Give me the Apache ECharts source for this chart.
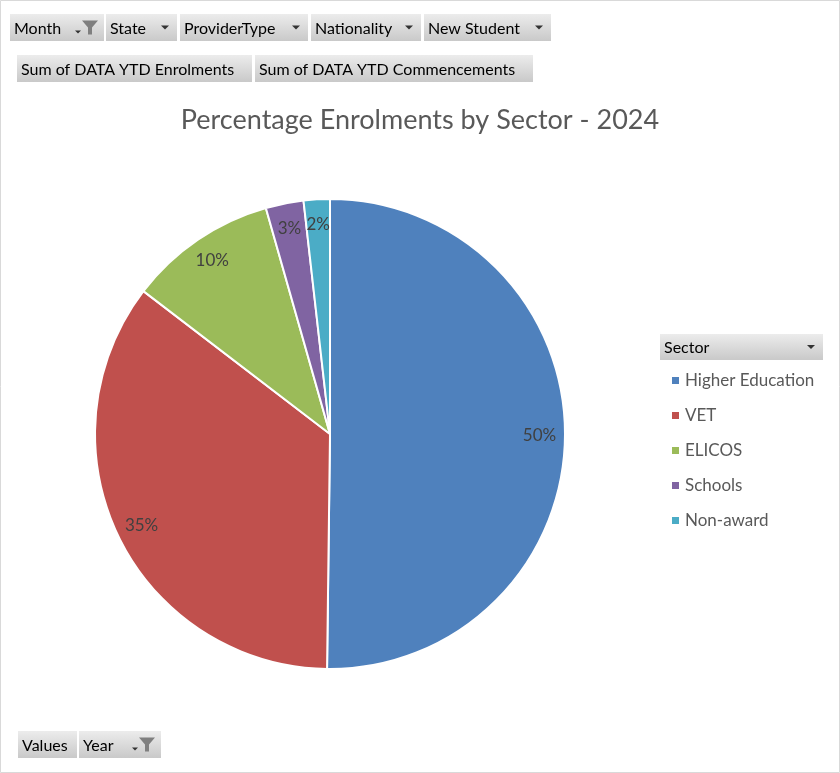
<!DOCTYPE html>
<html>
<head>
<meta charset="utf-8">
<title>Percentage Enrolments by Sector - 2024</title>
<script src="https://cdn.jsdelivr.net/npm/echarts@6/dist/echarts.min.js"></script>
<style>
    html, body { margin: 0; padding: 0; background: #fff; }
    #chart { width: 840px; height: 773px; }
</style>
</head>
<body>
<div id="chart"></div>
<script>
// sectors and their share of enrolments
var sectors = ['Higher Education', 'VET', 'ELICOS', 'Schools', 'Non-award'];
var shares = [50.2, 35.2, 10.2, 2.6, 1.8];
var colors = ['#4F81BD', '#C0504D', '#9BBB59', '#8064A2', '#4BACC6'];

// pivot field buttons
var topFields = ['Month', 'State', 'ProviderType', 'Nationality', 'New Student'];
var valueFields = ['Sum of DATA YTD Enrolments', 'Sum of DATA YTD Commencements'];
var axisFields = ['Values', 'Year'];

var FONT = 'Lato, "Liberation Sans", sans-serif';

var btnFill = new echarts.graphic.LinearGradient(0, 0, 0, 1, [
    { offset: 0, color: '#ececec' },
    { offset: 1, color: '#c9c9c9' }
]);

// one pivot button: kind = 'arrow' | 'filter' | ''
function button(label, x, y, w, h, kind) {
    var els = [{
        type: 'rect',
        shape: { x: x, y: y, width: w, height: h },
        style: { fill: btnFill }
    }, {
        type: 'text',
        style: {
            text: label, x: x + 4, y: y + h / 2 + 1,
            font: '16px ' + FONT, fill: '#000',
            verticalAlign: 'middle', textVerticalAlign: 'middle'
        }
    }];
    var cy = y + h / 2;
    if (kind === 'arrow') {
        var ax = x + w - 12;
        els.push({
            type: 'polygon',
            shape: { points: [[ax - 4, cy - 2], [ax + 4, cy - 2], [ax, cy + 2]] },
            style: { fill: '#333' }
        });
    } else if (kind === 'filter') {
        var fx = x + w - 14;
        els.push({
            type: 'polygon',
            shape: { points: [[fx - 8, cy - 7], [fx + 8, cy - 7], [fx + 2, cy], [fx + 2, cy + 7], [fx - 2, cy + 7], [fx - 2, cy]] },
            style: { fill: '#7f7f7f' }
        });
        els.push({
            type: 'polygon',
            shape: { points: [[fx - 15, cy + 3], [fx - 9, cy + 3], [fx - 12, cy + 6]] },
            style: { fill: '#333' }
        });
    }
    return els;
}

var graphics = [{
    type: 'rect',
    shape: { x: 0.5, y: 0.5, width: 839, height: 772 },
    style: { fill: 'none', stroke: '#d9d9d9', lineWidth: 1 }
}];

var topX = [10, 106, 180, 311, 424];
var topW = [94, 71, 128, 110, 127];
topFields.forEach(function (f, i) {
    graphics = graphics.concat(button(f, topX[i], 14, topW[i], 27, i === 0 ? 'filter' : 'arrow'));
});
var valX = [17, 255];
var valW = [235, 278];
valueFields.forEach(function (f, i) {
    graphics = graphics.concat(button(f, valX[i], 55, valW[i], 27, ''));
});
var axX = [18, 79];
var axW = [59, 82];
axisFields.forEach(function (f, i) {
    graphics = graphics.concat(button(f, axX[i], 731, axW[i], 27, i === 1 ? 'filter' : ''));
});
graphics = graphics.concat(button('Sector', 660, 334, 163, 26, 'arrow'));

var pieData = [];
sectors.forEach(function (s, i) {
    pieData.push({ name: s, value: shares[i], itemStyle: { color: colors[i] } });
});
var labelData = pieData.map(function (d) {
    return { name: d.name, value: d.value };
});

var myChart = echarts.init(document.getElementById('chart'));
var option = {
    backgroundColor: '#fff',
    animation: false,
    color: colors,
    title: {
        text: 'Percentage Enrolments by Sector - 2024',
        left: 'center',
        top: 102,
        textStyle: { fontFamily: FONT, fontSize: 27, fontWeight: 'normal', color: '#595959' }
    },
    legend: {
        orient: 'vertical',
        left: 665,
        top: 367,
        icon: 'rect',
        itemWidth: 9,
        itemHeight: 9,
        itemGap: 18,
        data: sectors,
        textStyle: { fontFamily: FONT, fontSize: 17, color: '#595959' }
    },
    graphic: graphics,
    series: [{
        name: 'Sector',
        type: 'pie',
        center: [330, 434],
        radius: 235,
        startAngle: 90,
        clockwise: true,
        label: { show: false },
        labelLine: { show: false },
        itemStyle: { borderColor: '#fff', borderWidth: 2 },
        emphasis: { disabled: true },
        data: pieData
    }, {
        // transparent ring used only to put the % labels near the rim
        name: 'labels',
        type: 'pie',
        center: [330, 434],
        radius: [178, 235],
        startAngle: 90,
        clockwise: true,
        silent: true,
        percentPrecision: 0,
        itemStyle: { color: 'rgba(0,0,0,0)', borderWidth: 0 },
        emphasis: { disabled: true },
        label: {
            show: true,
            position: 'inside',
            formatter: '{d}%',
            fontFamily: FONT,
            fontSize: 17,
            color: '#404040'
        },
        labelLine: { show: false },
        data: labelData
    }]
};
myChart.setOption(option);
</script>
</body>
</html>
